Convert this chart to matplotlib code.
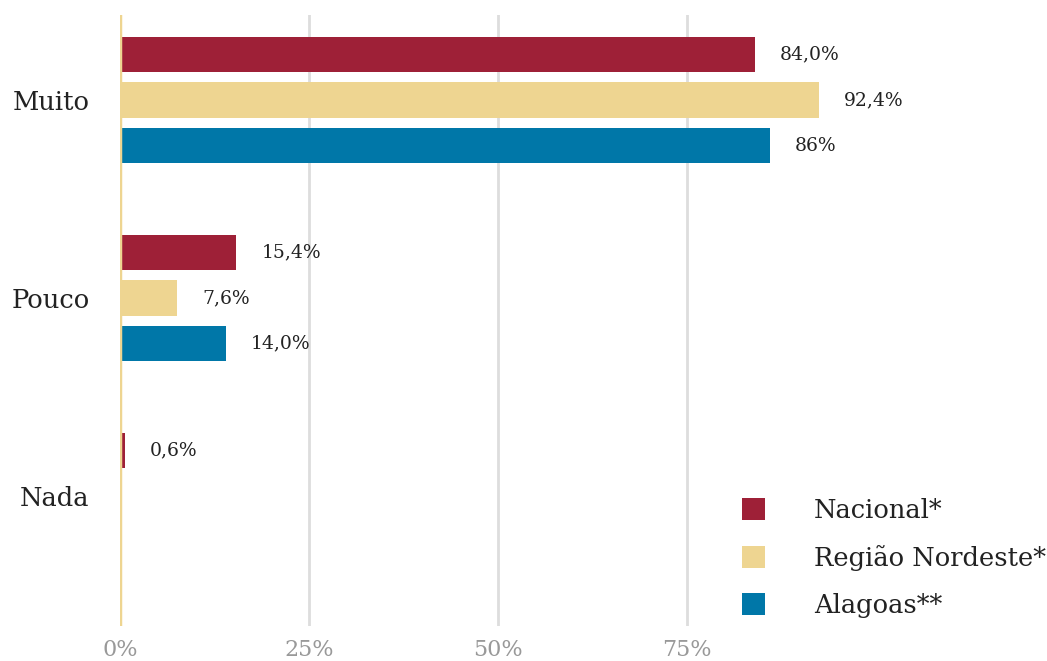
import matplotlib.pyplot as plt
from matplotlib.patches import Patch

categories = ['Muito', 'Pouco', 'Nada']
series = ['Nacional*', 'Região Nordeste*', 'Alagoas**']
values = [
    [84.0, 15.4, 0.6],    # Nacional
    [92.4, 7.6, None],    # Região Nordeste
    [86.0, 14.0, None],   # Alagoas
]
labels = [
    ['84,0%', '15,4%', '0,6%'],
    ['92,4%', '7,6%', ''],
    ['86%', '14,0%', ''],
]
xticks = [0, 25, 50, 75]
xticklabels = ['0%', '25%', '50%', '75%']

colors = ['#9E2037', '#EED591', '#0077A8']
font = 'DejaVu Serif'

fig = plt.figure(figsize=(10.47, 6.61), dpi=100)
ax = fig.add_axes([120 / 1047, 35 / 661, 927 / 1047, 611 / 661])

offsets = [-0.23, 0, 0.23]
for i, name in enumerate(series):
    for j, cat in enumerate(categories):
        v = values[i][j]
        if v is None:
            continue
        y = j + offsets[i]
        ax.barh(y, v, height=0.18, color=colors[i], zorder=3)
        ax.annotate(labels[i][j], (v, y), xytext=(18, 0), textcoords='offset points',
                    va='center', ha='left', fontsize=13.5, family=font, color='#222222')

ax.set_xlim(0, 927 / 7.56)
ax.set_ylim(2.657, -0.43)

for x in xticks[1:]:
    ax.axvline(x, color='#dddddd', lw=2, zorder=1)
ax.axvline(0, color='#EED591', lw=2.5, zorder=4)

ax.set_xticks(xticks)
ax.set_xticklabels(xticklabels, family=font, fontsize=16, color='#999999')
ax.set_yticks(range(len(categories)))
ax.set_yticklabels(categories, family=font, fontsize=18.5, color='#222222')
ax.tick_params(axis='x', length=0, pad=9)
ax.tick_params(axis='y', length=0, pad=22)
for s in ax.spines.values():
    s.set_visible(False)

handles = [Patch(facecolor=c, edgecolor='none') for c in colors]
fig.legend(handles, series, loc='upper left', bbox_to_anchor=(742 / 1047, 1 - 498 / 661),
           bbox_transform=fig.transFigure, frameon=False, borderpad=0, borderaxespad=0,
           handlelength=0.9, handleheight=0.9, handletextpad=1.9, labelspacing=0.85,
           prop={'family': font, 'size': 18.5}, labelcolor='#222222')

fig.savefig('out.png', dpi=100)
